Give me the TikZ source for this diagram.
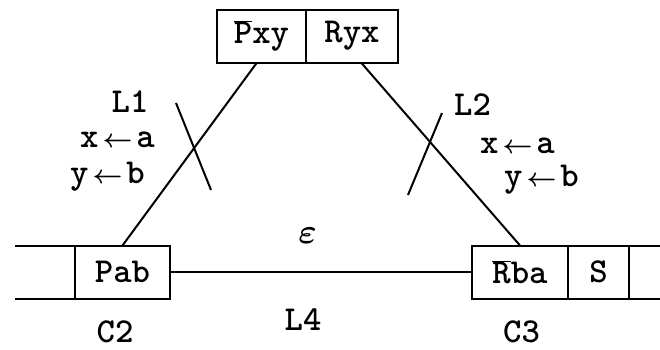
\documentclass[tikz,border=0pt]{standalone}
\usepackage{fix-cm}
\usepackage{bm}
\usetikzlibrary{positioning}
\newcommand{\cellfont}{\fontsize{35}{40}\selectfont\ttfamily\bfseries}
\newcommand{\asg}{\hspace{4pt}{\fontsize{26}{26}\selectfont$\bm{\leftarrow}$}\hspace{4pt}}
\newcommand{\negl}[1]{$\overline{\mbox{#1}}$}
\tikzset{
  % literal cells of a clause
  cell/.style={
    rectangle, draw, line width=2pt, outer sep=0pt, inner sep=0pt,
    minimum height=53pt, font=\cellfont,
  },
  % links between complementary literals
  link/.style={line width=2pt},
  % strike marks on the links
  cut/.style={line width=2pt},
  % labels
  lbl/.style={font=\cellfont, inner sep=0pt, anchor=base},
}
\begin{document}
\begin{tikzpicture}[x=1pt, y=-1pt]
  \useasboundingbox (0,0) rectangle (660,349);

  % Top clause
  \node[cell, minimum width=89pt] (pxy) at (261.5,36) {\negl{P}xy};
  \node[cell, minimum width=92pt, right=0pt of pxy] (ryx) {Ryx};

  % Clause C2
  \node[cell, minimum width=95pt] (pab) at (122.5,272) {Pab};
  \draw[link] (pab.north west) -- +(-60,0);
  \draw[link] (pab.south west) -- +(-60,0);

  % Clause C3
  \node[cell, minimum width=96pt] (rba) at (520,272) {\negl{R}ba};
  \node[cell, minimum width=61pt, right=0pt of rba] (s) {S};
  \draw[link] (s.north east) -- +(40,0);
  \draw[link] (s.south east) -- +(40,0);

  % Links
  \draw[link] ([xshift=-4.5pt]pxy.south) -- (pab.north);
  \draw[link] ([xshift=9pt]ryx.south) -- (rba.north);
  \draw[link] (pab.east) -- (rba.west);

  % Cuts
  \coordinate (cut1a) at (176,103);
  \coordinate (cut1b) at (211,190);
  \draw[cut] (cut1a) -- (cut1b);
  \coordinate (cut2a) at (442,113);
  \coordinate (cut2b) at (408,195);
  \draw[cut] (cut2a) -- (cut2b);

  % Labels
  \node[lbl] (l1) at (130,112) {L1};
  \node[lbl] (sub1x) at (117.5,147) {x\asg a};
  \node[lbl] (sub1y) at (107.5,183) {y\asg b};
  \node[lbl] (l2) at (472.5,115) {L2};
  \node[lbl] (sub2x) at (517.5,153) {x\asg a};
  \node[lbl] (sub2y) at (541.5,186) {y\asg b};
  \node[lbl] (eps) at (307.5,243) {$\bm{\varepsilon}$};
  \node[lbl] (l4) at (303,330) {L4};
  \node[lbl] (c2) at (115,342) {C2};
  \node[lbl] (c3) at (521.5,342) {C3};
\end{tikzpicture}
\end{document}
